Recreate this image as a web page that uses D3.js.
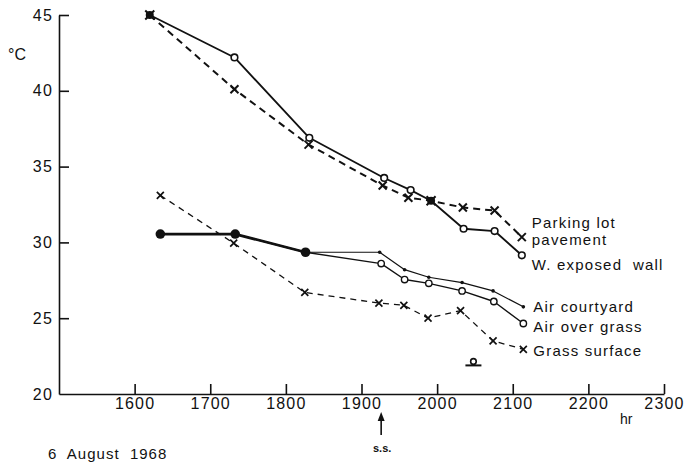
<!DOCTYPE html>
<html>
<head>
<meta charset="utf-8">
<script src="https://cdn.jsdelivr.net/npm/d3@7"></script>
<style>
  html, body { margin: 0; padding: 0; background: #fff; }
  svg text { font-family: "Liberation Sans", Arial, sans-serif; fill: #111; }
</style>
</head>
<body>
<svg id="chart" width="690" height="464"></svg>
<script>
// Readings, 6 August 1968: [time (hr), temperature (°C)]
const parkingLot   = [[1620,45.0],[1732,40.1],[1830,36.45],[1928,33.75],[1962,32.95],[1992,32.75],[2034,32.3],[2076,32.1],[2112,30.35]];
const exposedWall  = [[1620,45.0],[1732,42.2],[1831,36.9],[1930,34.25],[1965,33.45],[1992,32.75],[2035,30.9],[2076,30.75],[2112,29.15]];
const airCourtyard = [[1634,30.55],[1733,30.55],[1826,29.35],[1924,29.35],[1957,28.2],[1989,27.7],[2033,27.35],[2074,26.8],[2114,25.75]];
const airOverGrass = [[1634,30.55],[1733,30.55],[1826,29.35],[1926,28.6],[1957,27.55],[1989,27.3],[2033,26.8],[2075,26.1],[2114,24.65]];
const grassSurface = [[1634,33.1],[1731,29.95],[1825,26.7],[1923,26.0],[1956,25.85],[1988,25.0],[2031,25.5],[2074,23.5],[2114,22.95]];
const grassMinimum = [[2048,22.15]];
const sunsetTime = 1926;

const xTicks = [1600,1700,1800,1900,2000,2100,2200,2300];
const yTicks = [20,25,30,35,40,45];

const svg = d3.select("#chart");
const x = d3.scaleLinear().domain([1500, 2300]).range([59, 664]);
const y = d3.scaleLinear().domain([20, 45]).range([394, 15]);

// Axes: ticks point into the plot
const xAxis = svg.append("g").attr("transform", `translate(0,${y(20)})`)
  .call(d3.axisBottom(x).tickValues(xTicks).tickFormat(d3.format("d"))
    .tickSizeInner(-10).tickSizeOuter(0).tickPadding(4));
const yAxis = svg.append("g").attr("transform", `translate(${x(1500)},0)`)
  .call(d3.axisLeft(y).tickValues(yTicks).tickFormat(d3.format("d"))
    .tickSizeInner(-10).tickSizeOuter(0).tickPadding(6));
[xAxis, yAxis].forEach(g => {
  g.selectAll("path, line").attr("stroke", "#111").attr("stroke-width", 1.6);
  g.selectAll("text").attr("font-size", 16).attr("letter-spacing", "1.2px")
    .style("font-family", "'Liberation Sans', Arial, sans-serif").attr("fill", "#111");
});
yAxis.selectAll(".tick").filter(d => d === 20).select("line").remove();

svg.append("text").attr("x", 8).attr("y", 60).attr("font-size", 16).text("°C");
svg.append("text").attr("x", 620).attr("y", 424).attr("font-size", 14).text("hr");
svg.append("text").attr("x", 48).attr("y", 459).attr("font-size", 15)
  .attr("letter-spacing", "1px").attr("xml:space", "preserve").text("6  August  1968");

// Sunset marker
const ssx = x(sunsetTime);
svg.append("line").attr("x1", ssx).attr("x2", ssx).attr("y1", 418).attr("y2", 435)
  .attr("stroke", "#111").attr("stroke-width", 1.6);
svg.append("path").attr("d", `M${ssx},412L${ssx-3.5},421L${ssx+3.5},421Z`).attr("fill", "#111");
svg.append("text").attr("x", ssx + 1).attr("y", 452).attr("font-size", 11)
  .attr("font-weight", "bold").attr("text-anchor", "middle").text("s.s.");

const line = d3.line().x(d => x(d[0])).y(d => y(d[1]));
const same = (a, b) => a[0] === b[0] && a[1] === b[1];

function drawLine(data, width, dash) {
  svg.append("path").datum(data).attr("d", line).attr("fill", "none")
    .attr("stroke", "#111").attr("stroke-width", width)
    .attr("stroke-dasharray", dash || null).attr("stroke-linejoin", "round");
}
function drawCircles(data, r, sw) {
  svg.append("g").selectAll("circle").data(data).join("circle")
    .attr("cx", d => x(d[0])).attr("cy", d => y(d[1])).attr("r", r)
    .attr("fill", "#fff").attr("stroke", "#111").attr("stroke-width", sw);
}
function drawDots(data, r) {
  svg.append("g").selectAll("circle").data(data).join("circle")
    .attr("cx", d => x(d[0])).attr("cy", d => y(d[1])).attr("r", r).attr("fill", "#111");
}
function drawCrosses(data, h, sw) {
  svg.append("g").selectAll("path").data(data).join("path")
    .attr("d", d => {
      const cx = x(d[0]), cy = y(d[1]);
      return `M${cx-h},${cy-h}L${cx+h},${cy+h}M${cx-h},${cy+h}L${cx+h},${cy-h}`;
    })
    .attr("stroke", "#111").attr("stroke-width", sw).attr("fill", "none");
}

// Surfaces: parking lot (dashed, crosses) and west-facing wall (solid, circles)
drawLine(exposedWall, 1.8);
drawLine(parkingLot, 2, "7,5");
const wallOnly = exposedWall.filter((d, i) => !same(d, parkingLot[i]));
const lotOnly  = parkingLot.filter((d, i) => !same(d, exposedWall[i]));
const surfShared = exposedWall.filter((d, i) => same(d, parkingLot[i]));
drawCircles(wallOnly, 3.3, 1.6);
drawCrosses(lotOnly, 4, 2);
drawDots(surfShared, 4);
drawCrosses(surfShared, 4.5, 2);

// Air temperatures: courtyard (small dots) and over grass (circles)
drawLine(airCourtyard, 1.2);
drawLine(airOverGrass, 1.4);
let k = 0;
while (k < airCourtyard.length && same(airCourtyard[k], airOverGrass[k])) k++;
const airShared = airCourtyard.slice(0, k);
drawLine(airShared, 2.8);
drawDots(airShared, 4.8);
drawDots(airCourtyard.slice(k), 1.8);
drawCircles(airOverGrass.slice(k), 3.2, 1.4);

// Grass surface (thin dashed, crosses)
drawLine(grassSurface, 1.3, "6,5");
drawCrosses(grassSurface, 3.5, 1.7);

// Minimum mark on the grass
grassMinimum.forEach(d => {
  const cx = x(d[0]), cy = y(d[1]);
  svg.append("circle").attr("cx", cx).attr("cy", cy).attr("r", 2.8)
    .attr("fill", "#fff").attr("stroke", "#111").attr("stroke-width", 1.6);
  svg.append("line").attr("x1", cx - 8).attr("x2", cx + 8).attr("y1", cy + 4).attr("y2", cy + 4)
    .attr("stroke", "#111").attr("stroke-width", 2);
});

// Series labels beside the last readings
const labels = [
  { series: parkingLot,   lines: ["Parking lot", "pavement"], dy: [-9, 8] },
  { series: exposedWall,  lines: ["W. exposed  wall"], dy: [15] },
  { series: airCourtyard, lines: ["Air courtyard"], dy: [5] },
  { series: airOverGrass, lines: ["Air over grass"], dy: [8] },
  { series: grassSurface, lines: ["Grass surface"], dy: [7] }
];
labels.forEach(l => {
  const last = l.series[l.series.length - 1];
  l.lines.forEach((t, i) => {
    svg.append("text").attr("x", x(last[0]) + 10).attr("y", y(last[1]) + l.dy[i])
      .attr("font-size", 15).attr("letter-spacing", "1.2px").attr("xml:space", "preserve").text(t);
  });
});
</script>
</body>
</html>
